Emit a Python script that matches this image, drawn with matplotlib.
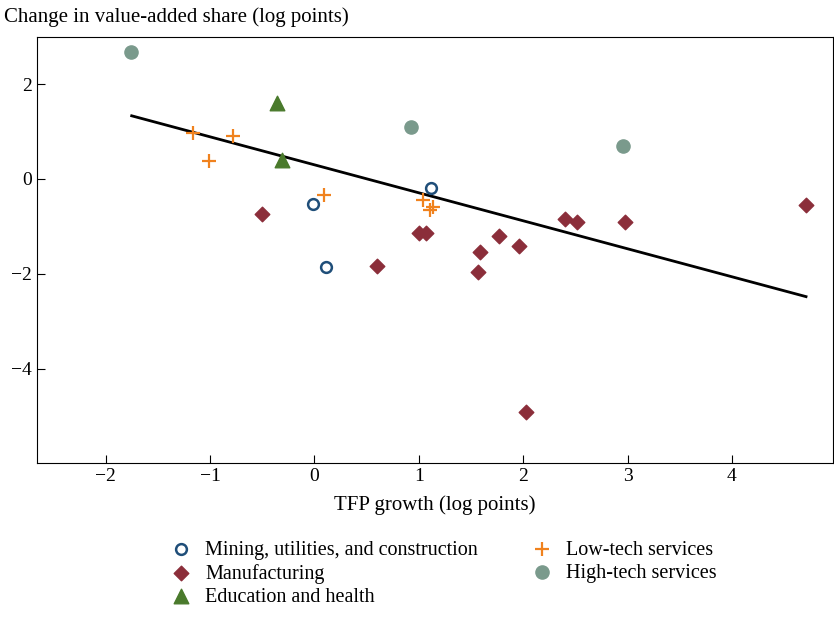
import matplotlib.pyplot as plt
import numpy as np

plt.rcParams['font.family'] = ['Liberation Serif', 'DejaVu Serif']
plt.rcParams['font.size'] = 14

mining_x = [-0.01, 0.11, 1.12]
mining_y = [-0.53, -1.85, -0.19]
manuf_x = [-0.50, 0.60, 1.00, 1.07, 1.57, 1.59, 1.77, 1.96, 2.03, 2.40, 2.52, 2.98, 4.71]
manuf_y = [-0.74, -1.83, -1.14, -1.14, -1.96, -1.54, -1.20, -1.41, -4.91, -0.84, -0.91, -0.91, -0.55]
edu_x = [-0.36, -0.31]
edu_y = [1.60, 0.40]
low_x = [-1.16, -1.01, -0.78, 0.09, 1.04, 1.11, 1.14]
low_y = [0.97, 0.38, 0.91, -0.34, -0.44, -0.65, -0.59]
high_x = [-1.76, 0.93, 2.96]
high_y = [2.67, 1.09, 0.69]
fit_x = [-1.75, 4.71]
fit_y = [1.33, -2.48]

fig = plt.figure(figsize=(8.34, 6.17), dpi=100)
ax = fig.add_axes([0.044, 0.25, 0.955, 0.69])

ax.plot(fit_x, fit_y, color='black', lw=2)
ax.scatter(mining_x, mining_y, s=60, facecolors='white', edgecolors='#1f4e79', linewidths=1.8,
           label='Mining, utilities, and construction', zorder=3)
ax.scatter(manuf_x, manuf_y, s=55, marker='D', color='#8b2e3a', label='Manufacturing', zorder=3)
ax.scatter(edu_x, edu_y, s=110, marker='^', color='#4a7a2c', label='Education and health', zorder=3)
ax.scatter(low_x, low_y, s=90, marker='+', color='#f0821e', linewidths=1.6, label='Low-tech services', zorder=3)
ax.scatter(high_x, high_y, s=90, marker='o', color='#7a9a8c', label='High-tech services', zorder=3)

ax.set_xlim(-2.66, 4.97)
ax.set_ylim(-5.98, 2.99)
ax.set_xticks([-2, -1, 0, 1, 2, 3, 4])
ax.set_xticklabels(['\u22122', '\u22121', '0', '1', '2', '3', '4'])
ax.set_yticks([-4, -2, 0, 2])
ax.set_yticklabels(['\u22124', '\u22122', '0', '2'])
ax.tick_params(direction='in', length=6, labelsize=14)
ax.set_xlabel('TFP growth (log points)', fontsize=15, labelpad=8)
fig.text(0.005, 0.965, 'Change in value-added share (log points)', fontsize=15, ha='left')

ax.legend(ncol=2, frameon=False,
          loc='upper center', bbox_to_anchor=(0.505, -0.14), fontsize=14.5,
          handletextpad=0.2, columnspacing=2.2, labelspacing=0.2)

fig.savefig('out.png', dpi=100)
